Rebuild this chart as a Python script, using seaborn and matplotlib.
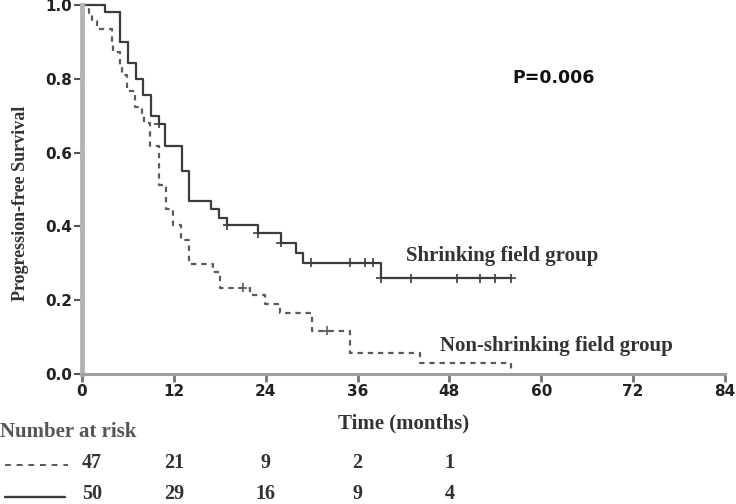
import numpy as np
import pandas as pd
import matplotlib
matplotlib.use("Agg")
import matplotlib.pyplot as plt
import matplotlib.transforms as mtransforms
from matplotlib.lines import Line2D
import seaborn as sns

# ---------------- data ----------------
shrink_time = [0, 3, 5, 6, 7, 8, 9, 10, 10.8, 13, 14, 16.8, 17.9, 19, 23, 26, 27.9, 28.9, 39, 56.1]
shrink_surv = [1.0, 0.98, 0.90, 0.842, 0.80, 0.757, 0.698, 0.678, 0.617, 0.551, 0.468, 0.446,
               0.424, 0.403, 0.381, 0.356, 0.329, 0.302, 0.259, 0.259]
shrink_censor = [10, 19, 23, 26, 29.9, 35, 37, 38, 39, 43, 49, 52, 54, 56.1]

nonshrink_time = [0, 0.9, 1.3, 1.9, 3.9, 4.1, 4.9, 5.2, 5.9, 6.9, 7.9, 8.1, 8.9, 10.0, 11.0,
                  11.9, 12.9, 14.0, 17.1, 18.0, 22.0, 23.9, 25.9, 30.0, 35.0, 44.1, 56.1]
nonshrink_surv = [1.0, 0.979, 0.957, 0.936, 0.894, 0.872, 0.830, 0.809, 0.766, 0.723, 0.702,
                  0.681, 0.617, 0.511, 0.447, 0.404, 0.362, 0.298, 0.277, 0.234, 0.213, 0.191,
                  0.166, 0.117, 0.058, 0.030, 0.0]
nonshrink_censor = [21, 32]

groups = ["Shrinking", "Non-shrinking"]
risk_months = [0, 12, 24, 36, 48]
risk_nonshrink = [47, 21, 9, 2, 1]
risk_shrink = [50, 29, 16, 9, 4]
x_ticks = [0, 12, 24, 36, 48, 60, 72, 84]
y_ticks = [0.0, 0.2, 0.4, 0.6, 0.8, 1.0]
y_ticklabels = ["0.0", "0.2", "0.4", "0.6", "0.8", "1.0"]


def step_value(times, survs, t):
    idx = np.searchsorted(np.asarray(times), t, side="right") - 1
    return survs[max(idx, 0)]


curves = pd.concat([
    pd.DataFrame({"time": shrink_time, "surv": shrink_surv, "group": groups[0]}),
    pd.DataFrame({"time": nonshrink_time, "surv": nonshrink_surv, "group": groups[1]}),
], ignore_index=True)

censors = pd.concat([
    pd.DataFrame({"time": shrink_censor,
                  "surv": [step_value(shrink_time, shrink_surv, t) for t in shrink_censor],
                  "group": groups[0]}),
    pd.DataFrame({"time": nonshrink_censor,
                  "surv": [step_value(nonshrink_time, nonshrink_surv, t) for t in nonshrink_censor],
                  "group": groups[1]}),
], ignore_index=True)

# ---------------- style ----------------
sns.set_theme(style="ticks")
plt.rcParams["font.family"] = ["DejaVu Sans"]
SERIF = ["Liberation Serif", "DejaVu Serif"]

palette = {groups[0]: "#3c3c3c", groups[1]: "#5a5a5a"}
dashes = {groups[0]: "", groups[1]: (2.4, 2.2)}

fig = plt.figure(figsize=(7.36, 5.04), dpi=100)
ax = fig.add_axes([82 / 736, 1 - 374 / 504, (725 - 82) / 736, (374 - 5) / 504])

sns.lineplot(data=curves, x="time", y="surv", hue="group", style="group",
             palette=palette, dashes=dashes, drawstyle="steps-post",
             estimator=None, sort=False, legend=False, linewidth=1.6, ax=ax)
for ln in ax.lines:
    ln.set_clip_on(False)

sns.scatterplot(data=censors, x="time", y="surv", hue="group", palette=palette,
                marker="+", s=45, linewidth=1.2, legend=False, ax=ax, clip_on=False)

ax.set_xlim(0, 84)
ax.set_ylim(0, 1)
ax.set_xticks(x_ticks)
ax.set_yticks(y_ticks)
ax.set_yticklabels(y_ticklabels)

sns.despine(ax=ax)
ax.spines["left"].set_color("#b4b4b4")
ax.spines["left"].set_linewidth(3.5)
ax.spines["bottom"].set_color("#a0a0a0")
ax.spines["bottom"].set_linewidth(2.2)
ax.tick_params(axis="y", direction="out", length=6, width=1.5, color="#555555",
               labelsize=11, pad=1, labelcolor="#222222")
ax.tick_params(axis="x", direction="out", length=6, width=2, color="#777777",
               labelsize=11, pad=1, labelcolor="#222222")
for lbl in ax.get_xticklabels() + ax.get_yticklabels():
    lbl.set_fontweight("bold")

ax.set_ylabel("Progression-free Survival", family=SERIF, fontweight="bold",
              fontsize=13, color="#333333", va="center")
ax.yaxis.set_label_coords((21 - 82) / 643, (374 - 203) / 369)
ax.set_xlabel("Time (months)", family=SERIF, fontweight="bold",
              fontsize=15, color="#333333", va="center")
ax.xaxis.set_label_coords(0.5, (374 - 423) / 369)

ax.text(56.2, 0.803, "P=0.006", ha="left", va="center", fontweight="bold",
        fontsize=12.5, color="#111111")
ax.text(42.3, 0.32, "Shrinking field group", ha="left", va="center", family=SERIF,
        fontweight="bold", fontsize=15, color="#333333")
ax.text(46.8, 0.0765, "Non-shrinking field group", ha="left", va="center", family=SERIF,
        fontweight="bold", fontsize=15, color="#333333")

# ---------------- number at risk table ----------------
trans = mtransforms.blended_transform_factory(ax.transData, fig.transFigure)
fig.text(0.0, 1 - 437 / 504, "Number at risk", ha="left", va="baseline", family=SERIF,
         fontweight="bold", fontsize=15, color="#555555")
row_base = [1 - 468 / 504, 1 - 499 / 504]
for row, vals in zip(row_base, [risk_nonshrink, risk_shrink]):
    for i, (m, v) in enumerate(zip(risk_months, vals)):
        ax.text(m, row, str(v), transform=trans, ha="left" if i == 0 else "center",
                va="baseline", family=SERIF, fontweight="bold", fontsize=14.5,
                color="#333333", clip_on=False)

line_y = [1 - 465 / 504, 1 - 497 / 504]
fig.add_artist(Line2D([5 / 736, 68 / 736], [line_y[0], line_y[0]], transform=fig.transFigure,
                      color="#5a5a5a", lw=1.4, linestyle=(0, (3, 3))))
fig.add_artist(Line2D([5 / 736, 65 / 736], [line_y[1], line_y[1]], transform=fig.transFigure,
                      color="#3c3c3c", lw=1.7))

fig.savefig("out.png", dpi=100)
